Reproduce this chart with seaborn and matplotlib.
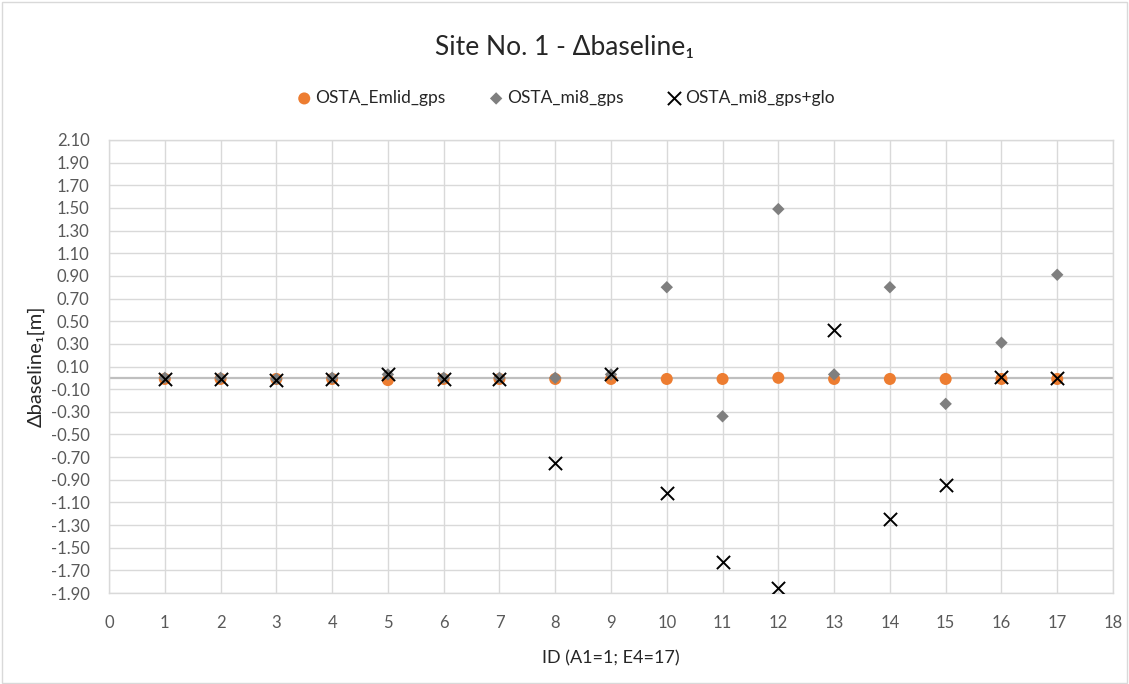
import matplotlib
matplotlib.use("Agg")
import matplotlib.pyplot as plt
import seaborn as sns
import numpy as np
import pandas as pd
from matplotlib.patches import Rectangle

ids = list(range(1, 18))
emlid_gps = [-0.01, -0.01, -0.01, -0.01, -0.02, -0.01, -0.01, -0.01, -0.01,
             -0.01, -0.01, 0.00, -0.01, -0.01, -0.01, -0.01, -0.01]
mi8_gps = [0.00, 0.00, -0.01, 0.00, 0.03, 0.00, 0.00, 0.00, 0.03,
           0.80, -0.34, 1.49, 0.03, 0.80, -0.23, 0.31, 0.91]
mi8_gps_glo = [-0.01, -0.01, -0.02, -0.01, 0.03, -0.01, -0.01, -0.75, 0.03,
               -1.02, -1.63, -1.86, 0.42, -1.25, -0.95, 0.01, 0.00]
series_names = ["OSTA_Emlid_gps", "OSTA_mi8_gps", "OSTA_mi8_gps+glo"]
y_ticks = [round(-1.9 + 0.2 * k, 2) for k in range(21)]
x_ticks = list(range(0, 19))

sns.set_theme(style="white")
plt.rcParams['font.family'] = ['Lato', 'DejaVu Sans']

fig = plt.figure(figsize=(11.29, 6.84), dpi=100)
ax = fig.add_axes([109/1129, 1 - 593/684, (1113-109)/1129, (593-140)/684])

# chart area border
fig.patches.append(Rectangle((0.002, 0.002), 0.996, 0.995, transform=fig.transFigure,
                             fill=False, edgecolor="#d9d9d9", linewidth=1.0))

df1 = pd.DataFrame({"id": ids, "v": emlid_gps})
df2 = pd.DataFrame({"id": ids, "v": mi8_gps})
df3 = pd.DataFrame({"id": ids, "v": mi8_gps_glo})

sns.scatterplot(data=df1, x="id", y="v", ax=ax, color="#ED7D31", marker="o", s=75,
                edgecolor="none", label=series_names[0], zorder=3)
sns.scatterplot(data=df2, x="id", y="v", ax=ax, color="#7f7f7f", marker="D", s=40,
                edgecolor="none", label=series_names[1], zorder=4)
sns.scatterplot(data=df3, x="id", y="v", ax=ax, color="black", marker="x", s=90,
                linewidth=1.4, label=series_names[2], zorder=5)

ax.set_xlim(0, 18)
ax.set_ylim(-1.9, 2.1)
ax.set_xticks(x_ticks)
ax.set_yticks(y_ticks)
ax.set_yticklabels([f"{t:.2f}" for t in y_ticks])
ax.grid(True, color="#d9d9d9", linewidth=1.0)
ax.set_axisbelow(True)
ax.axhline(0, color="#bfbfbf", linewidth=1.6, zorder=2)
for s in ax.spines.values():
    s.set_color("#d9d9d9")
    s.set_linewidth(1.0)
ax.tick_params(axis="both", length=0, labelsize=12, colors="#595959")
ax.tick_params(axis="x", pad=16)
ax.tick_params(axis="y", pad=14)

ax.set_xlabel("ID (A1=1; E4=17)", fontsize=13, color="#262626", labelpad=14)
ax.set_ylabel("Δbaseline₁[m]", fontsize=14.5, color="#262626", labelpad=4)

fig.text(0.5, 1 - 47/684, "Site No. 1 - Δbaseline₁", ha="center", va="center",
         fontsize=19, color="#262626")

handles, labels = ax.get_legend_handles_labels()
ax.legend(handles, labels, loc="center", bbox_to_anchor=(0.5, 1 - 98/684),
          bbox_transform=fig.transFigure, ncol=3, frameon=False, fontsize=12.5,
          handletextpad=0.05, columnspacing=2.3, labelcolor="#262626",
          handlelength=1.2)

fig.savefig("out.png", dpi=100)
